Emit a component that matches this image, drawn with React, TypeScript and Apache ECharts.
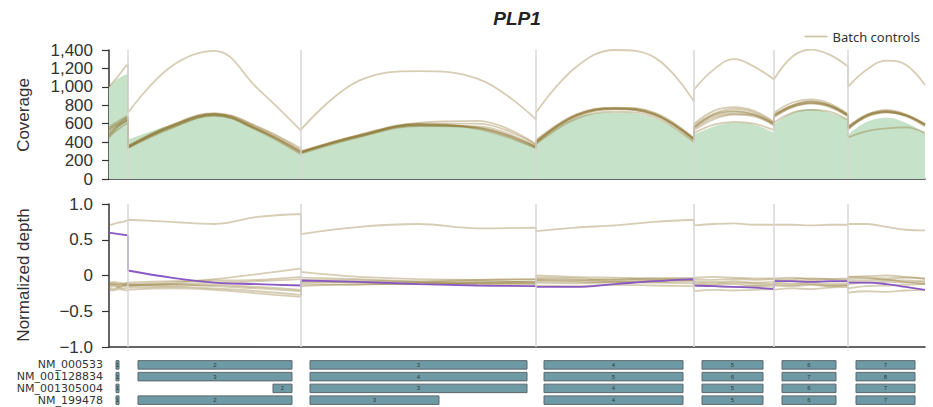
import React, { useEffect, useRef } from 'react';
import * as echarts from 'echarts';

// Exon lengths along the concatenated x axis (exons 1..7)
const exonLengths = [19, 173, 235, 158, 80, 74, 77];
// Relative positions inside each exon at which values were read
const sampleFractions = [0, 0.25, 0.5, 0.75, 1];

// Coverage — sample (green area)
const sampleCoverage = [
  [1000, 1050, 1090, 1120, 1140],
  [430, 590, 705, 540, 265],
  [290, 470, 595, 545, 340],
  [380, 660, 720, 660, 410],
  [480, 570, 610, 590, 500],
  [590, 720, 760, 720, 645],
  [480, 620, 665, 610, 500],
];

// Coverage — batch controls
const ctrlCovHigh = [
  [1000, 1060, 1120, 1190, 1250],
  [720, 1220, 1390, 980, 525],
  [535, 1070, 1170, 1090, 645],
  [720, 1210, 1400, 1320, 840],
  [970, 1190, 1300, 1220, 1080],
  [1080, 1330, 1405, 1350, 1220],
  [1000, 1190, 1285, 1240, 1020],
];
const ctrlCovA = [
  [560, 600, 630, 660, 690],
  [360, 585, 715, 570, 330],
  [300, 480, 610, 630, 380],
  [420, 700, 775, 720, 440],
  [600, 740, 780, 740, 620],
  [720, 830, 865, 820, 700],
  [570, 700, 740, 700, 600],
];
const ctrlCovB = [
  [470, 520, 570, 610, 640],
  [345, 565, 700, 545, 300],
  [285, 470, 590, 560, 345],
  [395, 690, 770, 705, 430],
  [560, 700, 740, 700, 600],
  [700, 800, 840, 800, 690],
  [560, 690, 730, 690, 590],
];
const ctrlCovC = [
  [540, 580, 610, 640, 670],
  [335, 550, 690, 525, 265],
  [275, 455, 575, 570, 350],
  [390, 670, 760, 690, 420],
  [530, 650, 700, 680, 580],
  [670, 780, 820, 790, 680],
  [550, 680, 730, 680, 580],
];
const ctrlCovD = [
  [450, 500, 540, 580, 610],
  [350, 580, 705, 545, 280],
  [290, 475, 595, 555, 340],
  [380, 650, 730, 670, 400],
  [500, 590, 620, 600, 530],
  [610, 720, 750, 730, 640],
  [450, 520, 550, 560, 500],
];
const ctrlCovE = [
  [500, 550, 590, 620, 650],
  [355, 575, 710, 560, 310],
  [300, 480, 600, 600, 370],
  [410, 690, 770, 710, 440],
  [580, 710, 760, 720, 610],
  [690, 790, 830, 800, 700],
  [560, 700, 750, 700, 590],
];
const ctrlCovF = [
  [480, 530, 580, 610, 640],
  [340, 560, 685, 535, 290],
  [295, 465, 580, 555, 355],
  [400, 680, 755, 700, 430],
  [550, 670, 710, 690, 590],
  [680, 780, 820, 780, 680],
  [540, 680, 720, 690, 590],
];
const ctrlCovG = [
  [530, 570, 600, 640, 670],
  [345, 570, 700, 535, 285],
  [285, 465, 590, 545, 335],
  [400, 685, 760, 700, 425],
  [560, 690, 730, 700, 600],
  [690, 800, 845, 800, 690],
  [540, 690, 730, 690, 570],
];

// Normalized depth — sample (purple)
const sampleNorm = [
  [0.6, 0.59, 0.58, 0.57, 0.56],
  [0.07, -0.03, -0.1, -0.12, -0.14],
  [-0.07, -0.09, -0.12, -0.14, -0.15],
  [-0.16, -0.16, -0.12, -0.08, -0.05],
  [-0.14, -0.15, -0.16, -0.17, -0.19],
  [-0.08, -0.08, -0.09, -0.08, -0.08],
  [-0.1, -0.1, -0.12, -0.16, -0.2],
];

// Normalized depth — batch controls
const ctrlNormHigh = [
  [0.7, 0.72, 0.74, 0.75, 0.77],
  [0.78, 0.75, 0.72, 0.82, 0.86],
  [0.58, 0.68, 0.72, 0.66, 0.67],
  [0.62, 0.67, 0.7, 0.75, 0.78],
  [0.7, 0.72, 0.73, 0.71, 0.71],
  [0.71, 0.71, 0.7, 0.71, 0.71],
  [0.72, 0.72, 0.68, 0.64, 0.63],
];
const ctrlNormA = [
  [-0.1, -0.09, -0.1, -0.11, -0.1],
  [-0.12, -0.1, -0.05, 0.02, 0.1],
  [0.05, -0.02, -0.05, -0.06, -0.05],
  [0.0, -0.02, -0.03, -0.04, -0.03],
  [-0.03, -0.02, -0.03, -0.04, -0.04],
  [-0.04, -0.03, -0.05, -0.05, -0.04],
  [-0.02, -0.01, 0.0, -0.02, -0.04],
];
const ctrlNormB = [
  [-0.14, -0.13, -0.15, -0.14, -0.13],
  [-0.15, -0.12, -0.1, -0.08, -0.05],
  [-0.08, -0.1, -0.12, -0.1, -0.09],
  [-0.06, -0.07, -0.05, -0.06, -0.06],
  [-0.08, -0.09, -0.08, -0.1, -0.09],
  [-0.07, -0.08, -0.07, -0.09, -0.08],
  [-0.05, -0.04, -0.06, -0.07, -0.08],
];
const ctrlNormC = [
  [-0.18, -0.19, -0.17, -0.18, -0.17],
  [-0.17, -0.16, -0.18, -0.22, -0.27],
  [-0.12, -0.13, -0.1, -0.08, -0.1],
  [-0.1, -0.11, -0.09, -0.1, -0.11],
  [-0.12, -0.13, -0.12, -0.14, -0.13],
  [-0.12, -0.13, -0.12, -0.14, -0.13],
  [-0.18, -0.15, -0.14, -0.13, -0.12],
];
const ctrlNormD = [
  [-0.2, -0.21, -0.19, -0.2, -0.21],
  [-0.2, -0.18, -0.2, -0.25, -0.3],
  [-0.15, -0.12, -0.12, -0.11, -0.12],
  [-0.14, -0.15, -0.13, -0.14, -0.15],
  [-0.22, -0.2, -0.21, -0.2, -0.19],
  [-0.2, -0.18, -0.19, -0.17, -0.16],
  [-0.24, -0.22, -0.23, -0.21, -0.2],
];
const ctrlNormE = [
  [-0.11, -0.12, -0.12, -0.13, -0.12],
  [-0.1, -0.08, -0.07, -0.06, -0.02],
  [-0.03, -0.05, -0.08, -0.06, -0.05],
  [-0.03, -0.04, -0.06, -0.04, -0.05],
  [-0.05, -0.06, -0.05, -0.06, -0.05],
  [-0.06, -0.05, -0.04, -0.05, -0.06],
  [-0.02, -0.03, -0.04, -0.03, -0.05],
];
const ctrlNormF = [
  [-0.16, -0.15, -0.16, -0.15, -0.14],
  [-0.13, -0.14, -0.13, -0.16, -0.2],
  [-0.1, -0.09, -0.1, -0.12, -0.11],
  [-0.08, -0.09, -0.1, -0.09, -0.08],
  [-0.1, -0.11, -0.1, -0.11, -0.12],
  [-0.1, -0.11, -0.1, -0.12, -0.11],
  [-0.12, -0.1, -0.09, -0.1, -0.12],
];
const ctrlNormG = [
  [-0.12, -0.11, -0.13, -0.12, -0.11],
  [-0.14, -0.12, -0.15, -0.18, -0.22],
  [-0.06, -0.07, -0.09, -0.1, -0.08],
  [-0.05, -0.06, -0.08, -0.07, -0.06],
  [-0.14, -0.15, -0.16, -0.15, -0.16],
  [-0.14, -0.15, -0.13, -0.15, -0.14],
  [-0.08, -0.07, -0.06, -0.09, -0.1],
];

const coverageTicks = [0, 1400, 200];
const normTicks = [-1, 1, 0.5];

// Transcript tracks: [start, end, exon label] in x-axis units
const transcripts = ['NM_000533', 'NM_001128834', 'NM_001305004', 'NM_199478'];
const trackNM000533 = [[7, 10, '1'], [29, 183, '2'], [201, 418, '3'], [435, 574, '4'], [593, 654, '5'], [673, 727, '6'], [747, 806, '7']];
const trackNM001128834 = [[7, 10, '1'], [29, 183, '3'], [201, 418, '4'], [435, 574, '5'], [593, 654, '6'], [673, 727, '7'], [747, 806, '8']];
const trackNM001305004 = [[7, 10, '1'], [164, 183, '2'], [201, 418, '3'], [435, 574, '4'], [593, 654, '5'], [673, 727, '6'], [747, 806, '7']];
const trackNM199478 = [[7, 10, '1'], [29, 183, '2'], [201, 330, '3'], [435, 574, '4'], [593, 654, '5'], [673, 727, '6'], [747, 806, '7']];

const exonStarts: number[] = [];
exonLengths.reduce((acc, l) => { exonStarts.push(acc); return acc + l; }, 0);
const totalLength = exonLengths.reduce((a, b) => a + b, 0);

// Each exon is its own smoothed segment; the jump at each exon boundary is a straight vertical segment.
function toPoints(values: number[][]) {
  const pts: any[] = [];
  values.forEach((exon, i) => {
    if (i > 0) {
      const prev = values[i - 1];
      pts.push('-');
      pts.push([exonStarts[i], prev[prev.length - 1]]);
      pts.push([exonStarts[i], exon[0]]);
      pts.push('-');
    }
    exon.forEach((v, j) => {
      pts.push([exonStarts[i] + sampleFractions[j] * exonLengths[i], v]);
    });
  });
  return pts;
}

const FONT = 'Liberation Sans, Arial, sans-serif';
const CTRL_COLOR = 'rgba(140,116,48,0.36)';

export default function App() {
  const ref = useRef<HTMLDivElement>(null);
  useEffect(() => {
    document.body.style.margin = '0';
    if (!ref.current) return;
    const chart = echarts.init(ref.current, null, { renderer: 'svg' });

    const ctrlCov = [ctrlCovHigh, ctrlCovA, ctrlCovB, ctrlCovC, ctrlCovD, ctrlCovE, ctrlCovF, ctrlCovG];
    const ctrlNorm = [ctrlNormHigh, ctrlNormA, ctrlNormB, ctrlNormC, ctrlNormD, ctrlNormE, ctrlNormF, ctrlNormG];
    const tracks = [trackNM000533, trackNM001128834, trackNM001305004, trackNM199478];
    const trackData: number[][] = [];
    const trackLabels: string[] = [];
    tracks.forEach((t, row) => t.forEach((e) => { trackData.push([row, e[0] as number, e[1] as number]); trackLabels.push(e[2] as string); }));

    const boundaryLine = {
      silent: true,
      symbol: ['none', 'none'],
      label: { show: false },
      lineStyle: { type: 'solid', color: '#d6d6d6', width: 1.5 },
      emphasis: { disabled: true },
      data: exonStarts.slice(1).map((x) => ({ xAxis: x })),
    };

    const ctrlLine = (data: number[][], xi: number) => ({
      type: 'line',
      name: 'Batch controls',
      xAxisIndex: xi,
      yAxisIndex: xi,
      data: toPoints(data),
      symbol: 'none',
      smooth: 0.4,
      connectNulls: false,
      lineStyle: { color: CTRL_COLOR, width: 1.8 },
      itemStyle: { color: CTRL_COLOR },
      z: 3,
    });

    const yAxisCommon = {
      type: 'value',
      axisLine: { show: true, lineStyle: { color: '#333', width: 1.5 } },
      axisTick: { show: true, length: 7, lineStyle: { color: '#333', width: 1.2 } },
      splitLine: { show: false },
    };

    chart.setOption({
      animation: false,
      graphic: [
        { type: 'text', x: 517, y: 18, style: { text: 'PLP1', font: 'italic bold 19px ' + FONT, fill: '#222', align: 'center', verticalAlign: 'middle' } },
        { type: 'text', x: 23, y: 115, rotation: Math.PI / 2, style: { text: 'Coverage', font: '17px ' + FONT, fill: '#333', align: 'center', verticalAlign: 'middle' } },
        { type: 'text', x: 23, y: 275, rotation: Math.PI / 2, style: { text: 'Normalized depth', font: '17px ' + FONT, fill: '#333', align: 'center', verticalAlign: 'middle' } },
      ],
      legend: {
        data: [{ name: 'Batch controls', icon: 'rect' }],
        right: 8,
        top: 25,
        itemWidth: 23,
        itemHeight: 1.6,
        itemGap: 6,
        itemStyle: { color: 'rgba(170,150,95,0.6)' },
        textStyle: { fontSize: 13, color: '#333', fontFamily: 'Noto Sans' },
      },
      grid: [
        { left: 109, right: 8, top: 50, height: 129 },
        { left: 109, right: 8, top: 204, height: 143 },
        { left: 109, right: 8, top: 359, height: 47 },
      ],
      xAxis: [0, 1, 2].map((i) => ({
        type: 'value',
        gridIndex: i,
        min: 0,
        max: totalLength,
        show: i !== 2,
        axisLine: { show: true, onZero: false, lineStyle: { color: '#333', width: 1.5 } },
        axisTick: { show: false },
        axisLabel: { show: false },
        splitLine: { show: false },
      })),
      yAxis: [
        {
          ...yAxisCommon,
          gridIndex: 0,
          min: coverageTicks[0],
          max: coverageTicks[1],
          interval: coverageTicks[2],
          axisLabel: { margin: 16, fontSize: 17, color: '#333', fontFamily: FONT, formatter: (v: number) => v.toLocaleString('en-US') },
        },
        {
          ...yAxisCommon,
          gridIndex: 1,
          min: normTicks[0],
          max: normTicks[1],
          interval: normTicks[2],
          axisLabel: {
            margin: 16, fontSize: 17, color: '#333', fontFamily: FONT,
            formatter: (v: number) => (v === 0 ? '0' : v.toFixed(1).replace('-', '\u2212')),
          },
        },
        {
          type: 'category',
          gridIndex: 2,
          data: transcripts,
          inverse: true,
          axisLine: { show: false },
          axisTick: { show: false },
          splitLine: { show: false },
          axisLabel: { margin: 6, fontSize: 11, color: '#333', fontFamily: 'DejaVu Sans', interval: 0, hideOverlap: false, lineHeight: 11 },
        },
      ],
      series: [
        {
          type: 'line',
          name: 'Sample',
          xAxisIndex: 0,
          yAxisIndex: 0,
          data: toPoints(sampleCoverage),
          symbol: 'none',
          smooth: 0.4,
          connectNulls: false,
          lineStyle: { width: 0 },
          areaStyle: { color: '#c6e2c9', opacity: 1 },
          z: 1,
          markLine: boundaryLine,
        },
        ...ctrlCov.map((d) => ctrlLine(d, 0)),
        ...ctrlNorm.map((d) => ctrlLine(d, 1)),
        {
          type: 'line',
          name: 'Sample depth',
          xAxisIndex: 1,
          yAxisIndex: 1,
          data: toPoints(sampleNorm),
          symbol: 'none',
          smooth: 0.4,
          connectNulls: false,
          lineStyle: { color: '#8a58c4', width: 1.8 },
          z: 4,
          markLine: boundaryLine,
        },
        {
          type: 'custom',
          name: 'Transcripts',
          xAxisIndex: 2,
          yAxisIndex: 2,
          data: trackData,
          encode: { x: [1, 2], y: 0 },
          renderItem: (params: any, api: any) => {
            const row = api.value(0);
            const p0 = api.coord([api.value(1), row]);
            const p1 = api.coord([api.value(2), row]);
            const h = 8.5;
            return {
              type: 'group',
              children: [
                { type: 'rect', shape: { x: p0[0], y: p0[1] - h / 2, width: p1[0] - p0[0], height: h }, style: { fill: '#6e9aa6', stroke: '#5d676b', lineWidth: 1 } },
                { type: 'text', style: { text: trackLabels[params.dataIndex], x: (p0[0] + p1[0]) / 2, y: p0[1], align: 'center', verticalAlign: 'middle', fontSize: 6, fontFamily: FONT, fill: '#2a3a40' } },
              ],
            };
          },
        },
      ],
    });
    return () => chart.dispose();
  }, []);
  return <div ref={ref} style={{ width: 933, height: 407 }} />;
}
